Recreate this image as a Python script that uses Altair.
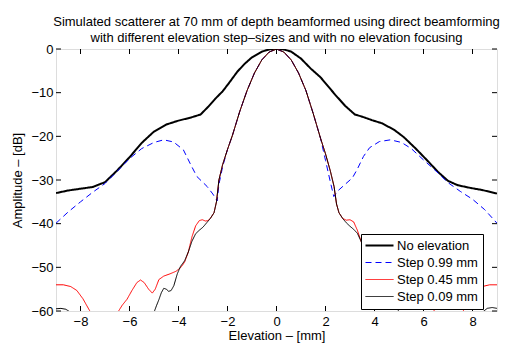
import altair as alt
import pandas as pd

title_lines = ["Simulated scatterer at 70 mm of depth beamformed using direct beamforming",
               "with different elevation step\u2013sizes and with no elevation focusing"]
series_names = ["No elevation", "Step 0.99 mm", "Step 0.45 mm", "Step 0.09 mm"]
series_colors = ["#000000", "#0000ff", "#ff0000", "#000000"]
series_dash = [[1, 0], [6, 4], [1, 0], [1, 0]]
series_width = [2, 1, 1, 1]

noelev_x = [-9, -8.5, -8.0, -7.5, -7.0, -6.5, -6.0, -5.5, -5.0, -4.5, -4.0, -3.5, -3.1, -2.8, -2.5, -2.2,
            -1.9, -1.6, -1.3, -1.0, -0.6, -0.3, 0, 0.3, 0.6, 1.0, 1.4, 1.8, 2.1, 2.4, 2.8, 3.2, 3.5, 3.9,
            4.3, 4.8, 5.2, 5.7, 6.2, 6.6, 7.0, 7.4, 7.9, 8.4, 9.0]
noelev_y = [-33.0, -32.4, -32.0, -31.6, -30.5, -27.8, -24.8, -21.5, -18.9, -17.3, -16.4, -15.7, -15.0,
            -13.3, -11.4, -9.7, -7.5, -5.2, -3.4, -1.9, -0.6, -0.1, 0, -0.1, -0.6, -2.2, -4.5, -6.5, -8.5,
            -10.5, -13.0, -15.0, -15.5, -16.3, -17.0, -18.5, -20.2, -22.9, -25.8, -28.2, -30.2, -31.2,
            -31.8, -32.3, -33.1]

step099_x = [-9, -8.5, -8.0, -7.5, -7.0, -6.5, -6.0, -5.5, -5.0, -4.6, -4.2, -3.8, -3.5, -3.25, -2.83,
             -2.6, -2.42, -2.35, -2.2, -2.0, -1.8, -1.5, -1.2, -0.9, -0.6, -0.3, 0, 0.3, 0.6, 0.9, 1.2,
             1.5, 1.8, 2.0, 2.2, 2.34, 2.5, 2.8, 3.1, 3.3, 3.55, 3.8, 4.2, 4.65, 5.1, 5.5, 6.0, 6.5, 7.0,
             7.5, 8.0, 8.5, 9.0]
step099_y = [-39.9, -37.3, -35.0, -32.8, -30.8, -28.0, -25.1, -22.8, -21.4, -20.8, -21.3, -23.1, -26.5,
             -29.2, -31.5, -33.2, -34.8, -31.0, -27.0, -23.0, -19.8, -14.3, -9.5, -5.5, -2.5, -0.7, 0,
             -0.7, -2.5, -5.5, -9.5, -14.8, -20.5, -25.5, -30.5, -33.8, -32.5, -31.0, -29.5, -27.5, -24.6,
             -22.6, -21.2, -20.8, -21.4, -22.8, -25.4, -27.9, -30.6, -32.6, -34.4, -36.8, -39.9]

step045_x = [-9, -8.7, -8.4, -8.15, -7.9, -7.65, -7.3, -6.9, -6.5, -6.3, -6.1, -5.9, -5.7, -5.55, -5.4,
             -5.22, -5.07, -4.95, -4.8, -4.6, -4.35, -4.1, -3.9, -3.75, -3.6, -3.45, -3.3, -3.15, -3.03,
             -2.9, -2.8, -2.7, -2.55, -2.45, -2.35, -2.2, -2.0, -1.8, -1.5, -1.2, -0.9, -0.6, -0.3, 0,
             0.3, 0.6, 0.9, 1.2, 1.5, 1.8, 2.0, 2.2, 2.35, 2.45, 2.55, 2.7, 2.85, 3.0, 3.15, 3.3, 3.45,
             3.6, 3.75, 3.9, 4.1, 4.35, 4.6, 4.8, 4.95, 5.07, 5.22, 5.4, 5.55, 5.7, 5.9, 6.1, 6.3, 6.5,
             6.9, 7.3, 7.65, 7.9, 8.15, 8.4, 8.7, 9.0]
step045_y = [-54.0, -54.0, -54.4, -55.3, -57.2, -59.7, -63.0, -64.0, -60.5, -58.7, -57.3, -55.3, -53.5,
             -52.9, -53.5, -55.0, -55.9, -55.0, -52.8, -52.0, -51.5, -50.9, -50.0, -48.8, -46.5, -43.0,
             -40.5, -39.3, -39.1, -39.4, -39.3, -38.8, -37.5, -35.0, -30.0, -26.5, -23.0, -19.8, -14.3,
             -9.5, -5.5, -2.5, -0.7, 0, -0.7, -2.5, -5.5, -9.5, -14.8, -20.5, -24.0, -28.0, -31.5, -35.5,
             -37.5, -38.8, -39.2, -39.1, -39.6, -41.5, -44.0, -46.5, -48.8, -50.0, -50.9, -51.5, -52.0,
             -52.8, -55.0, -55.9, -55.0, -53.5, -52.9, -53.5, -55.3, -57.3, -58.7, -60.5, -64.0, -63.0,
             -59.7, -57.2, -55.3, -54.4, -54.0, -54.0]

step009_x = [-9, -8.8, -8.6, -8.4, -8.1, -7.0, -6.0, -5.3, -5.0, -4.9, -4.8, -4.7, -4.6, -4.5, -4.4,
             -4.3, -4.19, -4.05, -3.92, -3.75, -3.6, -3.45, -3.3, -3.15, -3.0, -2.85, -2.7, -2.55, -2.45,
             -2.35, -2.2, -2.0, -1.8, -1.5, -1.2, -0.9, -0.6, -0.3, 0, 0.3, 0.6, 0.9, 1.2, 1.5, 1.8, 2.0,
             2.2, 2.35, 2.45, 2.55, 2.7, 2.85, 3.0, 3.15, 3.3, 3.45, 3.6, 3.75, 3.92, 4.05, 4.19, 4.3,
             4.4, 4.5, 4.6, 4.7, 4.8, 4.9, 5.0, 5.3, 6.0, 7.0, 8.1, 8.4, 8.6, 8.8, 9.0]
step009_y = [-59.5, -59.4, -59.6, -60.3, -62.0, -66.0, -66.0, -63.0, -60.3, -58.8, -57.4, -55.8, -54.8,
             -55.0, -55.5, -55.3, -54.2, -51.5, -49.8, -48.5, -46.5, -44.0, -42.3, -41.5, -40.8, -39.8,
             -38.8, -37.5, -35.0, -30.0, -26.5, -23.0, -19.8, -14.3, -9.5, -5.5, -2.5, -0.7, 0, -0.7,
             -2.5, -5.5, -9.5, -14.8, -20.5, -24.0, -28.0, -31.5, -35.5, -37.5, -38.8, -39.8, -40.6,
             -41.3, -42.2, -44.0, -46.5, -48.5, -49.8, -51.5, -54.2, -55.3, -55.5, -55.0, -54.8, -55.8,
             -57.4, -58.8, -60.3, -63.0, -66.0, -66.0, -62.0, -60.3, -59.4, -59.2, -59.4]

x_ticks = [-8, -6, -4, -2, 0, 2, 4, 6, 8]
y_ticks = [0, -10, -20, -30, -40, -50, -60]

FONT = "Liberation Sans"
FS = 13
W, H = 441, 262

frames = []
for k, (xs, ys) in enumerate([(noelev_x, noelev_y), (step099_x, step099_y),
                              (step045_x, step045_y), (step009_x, step009_y)]):
    frames.append(pd.DataFrame({"x": xs, "y": ys, "series": series_names[k],
                                "sw": series_width[k], "i": range(len(xs))}))
df = pd.concat(frames, ignore_index=True)

xscale = alt.Scale(domain=[-9, 9], nice=False, zero=False)
yscale = alt.Scale(domain=[-60, 0], nice=False, zero=False)
minus = "replace(datum.label, '-', '\u2212')"
sym_width = "datum.value === '%s' ? %d : %d" % (series_names[0], series_width[0], series_width[1])

lines = alt.Chart(df).mark_line(clip=True).encode(
    x=alt.X("x:Q", scale=xscale, title="Elevation \u2013 [mm]",
            axis=alt.Axis(values=x_ticks, ticks=False, domain=False, grid=False, labelExpr=minus,
                          labelFontSize=FS, labelFont=FONT, labelColor="black", labelPadding=4,
                          titleFontSize=FS, titleFont=FONT, titleFontWeight="normal", titleColor="black",
                          titlePadding=1)),
    y=alt.Y("y:Q", scale=yscale, title="Amplitude \u2013 [dB]",
            axis=alt.Axis(values=y_ticks, ticks=False, domain=False, grid=False, labelExpr=minus,
                          labelFontSize=FS, labelFont=FONT, labelColor="black", labelPadding=3,
                          titleFontSize=FS, titleFont=FONT, titleFontWeight="normal", titleColor="black",
                          titlePadding=6)),
    color=alt.Color("series:N", title=None,
                    scale=alt.Scale(domain=series_names, range=series_colors),
                    legend=alt.Legend(orient="none", legendX=305, legendY=185, fillColor="white",
                                      strokeColor="black", padding=5, symbolType="M-1,0H3",
                                      symbolSize=196, labelFontSize=FS, labelFont=FONT,
                                      labelColor="black", labelOffset=18, rowPadding=3,
                                      labelLimit=300, cornerRadius=0,
                                      symbolStrokeWidth={"expr": sym_width})),
    strokeDash=alt.StrokeDash("series:N", title=None,
                              scale=alt.Scale(domain=series_names, range=series_dash)),
    strokeWidth=alt.StrokeWidth("sw:Q", scale=None),
    order="i:Q",
)

xt = pd.DataFrame({"x": x_ticks})
yt = pd.DataFrame({"y": y_ticks})
tk = 5
bottom_ticks = alt.Chart(xt).mark_rule(color="black", strokeWidth=1).encode(
    x=alt.X("x:Q", scale=xscale), y=alt.value(H), y2=alt.value(H - tk))
top_ticks = alt.Chart(xt).mark_rule(color="black", strokeWidth=1).encode(
    x=alt.X("x:Q", scale=xscale), y=alt.value(0), y2=alt.value(tk))
left_ticks = alt.Chart(yt).mark_rule(color="black", strokeWidth=1).encode(
    y=alt.Y("y:Q", scale=yscale), x=alt.value(0), x2=alt.value(tk))
right_ticks = alt.Chart(yt).mark_rule(color="black", strokeWidth=1).encode(
    y=alt.Y("y:Q", scale=yscale), x=alt.value(W), x2=alt.value(W - tk))

chart = alt.layer(lines, bottom_ticks, top_ticks, left_ticks, right_ticks).properties(
    width=W, height=H,
    title=alt.TitleParams(text=title_lines, fontSize=FS, font=FONT, fontWeight="normal",
                          color="black", anchor="middle", frame="group", offset=-2, lineHeight=16.5),
    autosize=alt.AutoSizeParams(type="none"),
    padding={"left": 48, "top": 41, "right": 14, "bottom": 35},
).configure_view(stroke="black", strokeWidth=1).configure(background="white")

chart.save("out.html", embed_options={"renderer": "svg", "actions": False})
